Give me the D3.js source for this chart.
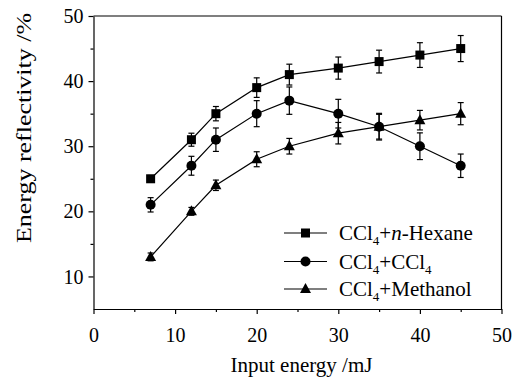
<!DOCTYPE html>
<meta charset="utf-8">
<style>
body { margin: 0; background: #fff; }
svg text { font-family: "Liberation Serif", "DejaVu Serif", serif !important; fill: #000; }
.axis path, .axis line { stroke: #000; stroke-width: 1.2; }
.series { stroke: #000; stroke-width: 1.2; fill: none; }
.err { stroke: #000; stroke-width: 1.2; }
</style>
<body>
<script src="https://cdn.jsdelivr.net/npm/d3@7"></script>
<script>

// Data
var energy = [7, 12, 15, 20, 24, 30, 35, 40, 45];
var hexane = [25, 31, 35, 39, 41, 42, 43, 44, 45];
var hexaneErr = [0.5, 1.0, 1.1, 1.5, 1.6, 1.7, 1.75, 1.9, 2.0];
var ccl4 = [21, 27, 31, 35, 37, 35, 33, 30, 27];
var ccl4Err = [1.1, 1.45, 1.8, 2.0, 2.1, 2.2, 2.05, 2.05, 1.8];
var methanol = [13, 20, 24, 28, 30, 32, 33, 34, 35];
var methanolErr = [0.6, 0.6, 0.8, 1.15, 1.2, 1.65, 1.9, 1.5, 1.7];
var xTicks = [0, 10, 20, 30, 40, 50];
var yTicks = [10, 20, 30, 40, 50];

var seriesList = [
    {name: "hexane", values: hexane, errs: hexaneErr, marker: "square"},
    {name: "ccl4", values: ccl4, errs: ccl4Err, marker: "circle"},
    {name: "methanol", values: methanol, errs: methanolErr, marker: "triangle"}
];

// Canvas and plot box
var W = 521, H = 378;
var margin = {top: 16, right: 19.5, bottom: 69, left: 93.5},
    width = W - margin.left - margin.right,
    height = H - margin.top - margin.bottom;

var svg = d3.select("body").append("svg")
    .attr("width", W)
    .attr("height", H);

var g = svg.append("g")
    .attr("transform", "translate(" + margin.left + "," + margin.top + ")");

var x = d3.scaleLinear().domain([0, 50]).range([0, width]);
var y = d3.scaleLinear().domain([5, 50]).range([height, 0]);

// minor ticks
g.append("g")
    .attr("class", "axis")
    .attr("transform", "translate(0," + height + ")")
    .call(d3.axisBottom(x).tickValues(d3.range(5, 50, 10)).tickSize(3).tickFormat(""))
    .select(".domain").remove();
g.append("g")
    .attr("class", "axis")
    .call(d3.axisLeft(y).tickValues(d3.range(15, 50, 10)).tickSize(3).tickFormat(""))
    .select(".domain").remove();

// major ticks + labels
var xAxis = g.append("g")
    .attr("class", "axis")
    .attr("transform", "translate(0," + height + ")")
    .call(d3.axisBottom(x).tickValues(xTicks).tickSize(5).tickSizeOuter(0).tickPadding(0));
xAxis.attr("font-family", null).attr("font-size", null);
xAxis.selectAll("text")
    .attr("y", 33).attr("dy", null)
    .style("font-size", "20px");

var yAxis = g.append("g")
    .attr("class", "axis")
    .call(d3.axisLeft(y).tickValues(yTicks).tickSize(5).tickSizeOuter(0).tickPadding(0));
yAxis.attr("font-family", null).attr("font-size", null);
yAxis.selectAll("text")
    .attr("x", -10).attr("dy", "0.33em")
    .style("font-size", "20px");

// top and right frame lines
g.append("line").attr("class", "series")
    .attr("x1", 0).attr("x2", width).attr("y1", 0).attr("y2", 0);
g.append("line").attr("class", "series")
    .attr("x1", width).attr("x2", width).attr("y1", 0).attr("y2", height);

// axis titles
svg.append("text")
    .attr("x", margin.left + x(25) + 4)
    .attr("y", 372)
    .attr("text-anchor", "middle")
    .style("font-size", "21px")
    .text("Input energy /mJ");

// the y title in the picture is drawn longer than the x title
svg.append("text")
    .attr("transform", "translate(31,128) rotate(-90)")
    .attr("text-anchor", "middle")
    .attr("textLength", 230)
    .attr("lengthAdjust", "spacingAndGlyphs")
    .style("font-size", "21.5px")
    .text("Energy reflectivity /%");

// marker drawing
function drawMarker(sel, type, cx, cy) {
    if (type === "square") {
        sel.append("rect")
            .attr("x", cx - 4.5).attr("y", cy - 4.5)
            .attr("width", 9).attr("height", 9)
            .attr("fill", "#000");
    } else if (type === "circle") {
        sel.append("circle")
            .attr("cx", cx).attr("cy", cy).attr("r", 5)
            .attr("fill", "#000");
    } else {
        sel.append("path")
            .attr("d", "M" + cx + "," + (cy - 6) + "L" + (cx + 5.5) + "," + (cy + 4) + "L" + (cx - 5.5) + "," + (cy + 4) + "Z")
            .attr("fill", "#000");
    }
}

var line = d3.line()
    .x(function(d, i) { return x(energy[i]); })
    .y(function(d) { return y(d); });

seriesList.forEach(function(s) {
    var sg = g.append("g");
    sg.append("path")
        .datum(s.values)
        .attr("class", "series")
        .attr("d", line);

    s.values.forEach(function(v, i) {
        var cx = x(energy[i]);
        var lo = y(v - s.errs[i]), hi = y(v + s.errs[i]);
        sg.append("line").attr("class", "err")
            .attr("x1", cx).attr("x2", cx).attr("y1", lo).attr("y2", hi);
        sg.append("line").attr("class", "err")
            .attr("x1", cx - 3).attr("x2", cx + 3).attr("y1", lo).attr("y2", lo);
        sg.append("line").attr("class", "err")
            .attr("x1", cx - 3).attr("x2", cx + 3).attr("y1", hi).attr("y2", hi);
        drawMarker(sg, s.marker, cx, y(v));
    });
});

// legend
var legendRows = [233, 261.5, 289];
var legendParts = [
    [["CCl", ""], ["4", "sub"], ["+", ""], ["n", "i"], ["-Hexane", ""]],
    [["CCl", ""], ["4", "sub"], ["+CCl", ""], ["4", "sub"]],
    [["CCl", ""], ["4", "sub"], ["+Methanol", ""]]
];

var legend = svg.append("g");
seriesList.forEach(function(s, k) {
    var ly = legendRows[k];
    legend.append("line").attr("class", "series")
        .attr("x1", 284).attr("x2", 327).attr("y1", ly).attr("y2", ly);
    drawMarker(legend, s.marker, 305.5, ly);

    var t = legend.append("text")
        .attr("x", 339).attr("y", ly + 7)
        .style("font-size", "21px");
    var lowered = false;
    legendParts[k].forEach(function(p) {
        var ts = t.append("tspan").text(p[0]);
        if (p[1] === "sub") {
            ts.style("font-size", "13px").attr("dy", 5);
            lowered = true;
        } else {
            if (lowered) { ts.attr("dy", -5); lowered = false; }
            if (p[1] === "i") ts.style("font-style", "italic");
        }
    });
});

</script>
</body>
